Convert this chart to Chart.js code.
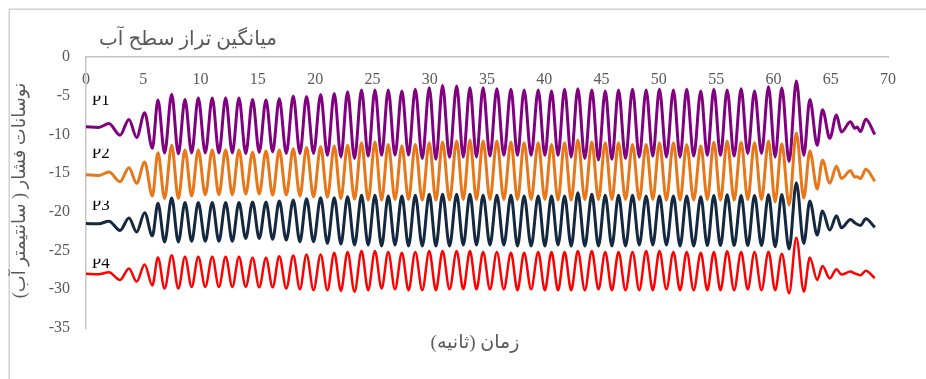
<!DOCTYPE html>
<html>
<head>
<meta charset="utf-8">
<script src="https://cdn.jsdelivr.net/npm/chart.js@4.4.1/dist/chart.umd.min.js"></script>
<style>
  html, body { margin: 0; padding: 0; background: #ffffff; }
  #wrap { width: 926px; height: 379px; position: relative; }
</style>
</head>
<body>
<div id="wrap"><canvas id="chart"></canvas></div>
<script>
// Texts
const chartTitle = 'میانگین تراز سطح آب';
const xTitle = 'زمان (ثانیه)';
const yTitle = 'نوسانات فشار ( سانتیمتر آب)';
const seriesNames = ['P1', 'P2', 'P3', 'P4'];

// Tick labels
const xTickValues = [0, 5, 10, 15, 20, 25, 30, 35, 40, 45, 50, 55, 60, 65, 70];
const yTickValues = [0, -5, -10, -15, -20, -25, -30, -35];

// Time (s) of each turning point of the records (crests and troughs alternate)
const times = [
  0, 1.1, 2.0, 2.97, 3.75, 4.42, 5.12, 5.79, 6.28, 6.86,
  7.48, 8.06, 8.64, 9.22, 9.80, 10.41, 11.02, 11.60, 12.19, 12.77,
  13.35, 13.94, 14.54, 15.12, 15.71, 16.29, 16.87, 17.48, 18.09, 18.67,
  19.25, 19.86, 20.48, 21.07, 21.67, 22.25, 22.83, 23.44, 24.05, 24.63,
  25.22, 25.80, 26.38, 26.97, 27.57, 28.15, 28.74, 29.35, 29.96, 30.54,
  31.12, 31.73, 32.35, 32.93, 33.51, 34.08, 34.66, 35.26, 35.86, 36.47,
  37.09, 37.66, 38.24, 38.85, 39.47, 40.05, 40.63, 41.20, 41.77, 42.35,
  42.93, 43.54, 44.15, 44.73, 45.32, 45.90, 46.48, 47.09, 47.70, 48.29,
  48.89, 49.47, 50.05, 50.66, 51.27, 51.85, 52.43, 53.04, 53.66, 54.23,
  54.80, 55.38, 55.96, 56.57, 57.18, 57.76, 58.35, 58.96, 59.57, 60.15,
  60.73, 61.37, 62.00, 62.65, 63.18, 63.82, 64.28, 64.92, 65.50, 65.94,
  66.72, 67.10, 67.30, 67.60, 68.06, 68.85
];

// Pressure (cm of water) at those times, one list per gauge
const p1 = [
  -9.0, -9.1, -8.6, -10.1, -8.06, -10.4, -7.2, -11.8, -5.56, -12.4,
  -4.8, -12.5, -5.5, -12.4, -5.3, -12.4, -5.3, -12.4, -5.3, -12.4,
  -5.3, -12.45, -5.5, -12.3, -5.55, -12.25, -5.4, -12.45, -5.05, -12.45,
  -5.1, -12.45, -4.85, -12.7, -4.7, -12.9, -4.5, -13.1, -4.26, -12.8,
  -4.26, -12.7, -4.26, -12.67, -4.39, -12.67, -4.18, -13.1, -3.97, -13.2,
  -3.67, -12.95, -3.75, -12.9, -3.97, -12.9, -3.97, -12.8, -4.1, -12.7,
  -4.18, -12.7, -4.26, -12.7, -4.26, -12.7, -4.39, -12.7, -4.18, -12.9,
  -4.1, -13.1, -4.26, -13.3, -4.39, -13.2, -4.26, -13.1, -4.18, -12.9,
  -4.26, -12.8, -4.18, -12.9, -4.26, -12.9, -4.18, -12.8, -4.39, -12.7,
  -4.18, -12.7, -4.26, -12.8, -4.1, -12.45, -4.39, -12.45, -3.84, -12.9,
  -4.0, -13.5, -3.1, -12.7, -5.5, -11.4, -6.8, -10.5, -7.5, -9.7,
  -8.35, -9.2, -9.05, -9.65, -8.05, -10.0
];
const p2 = [
  -15.2, -15.3, -14.86, -16.1, -14.3, -16.3, -13.57, -17.96, -12.37, -18.27,
  -11.4, -18.27, -12.0, -17.96, -12.0, -17.8, -12.0, -17.8, -12.0, -17.8,
  -12.0, -17.7, -12.3, -17.7, -12.15, -17.83, -12.0, -17.83, -11.85, -17.96,
  -11.7, -18.05, -11.6, -18.1, -11.5, -18.27, -11.4, -18.35, -11.07, -18.48,
  -10.98, -18.48, -11.3, -18.4, -11.5, -18.4, -11.3, -18.48, -11.07, -18.48,
  -10.98, -18.48, -10.85, -18.4, -10.72, -18.4, -10.85, -18.4, -10.85, -18.4,
  -10.98, -18.4, -11.07, -18.4, -11.07, -18.4, -11.3, -18.48, -11.07, -18.48,
  -10.72, -18.4, -10.98, -18.4, -11.07, -18.4, -11.07, -18.4, -11.3, -18.4,
  -11.3, -18.4, -11.07, -18.48, -11.07, -18.48, -11.3, -18.48, -11.5, -18.4,
  -11.0, -18.48, -10.85, -18.48, -11.0, -18.4, -11.07, -18.4, -10.85, -18.7,
  -11.2, -19.1, -9.8, -18.2, -12.15, -17.05, -13.35, -16.3, -14.1, -15.7,
  -14.7, -15.5, -15.45, -15.7, -14.5, -16.05
];
const p3 = [
  -21.5, -21.55, -21.2, -22.4, -20.8, -22.6, -20.1, -23.1, -18.9, -23.9,
  -18.2, -23.9, -18.8, -23.8, -18.8, -23.8, -18.8, -23.8, -18.8, -23.8,
  -18.8, -23.43, -18.74, -23.43, -18.74, -23.55, -18.6, -23.65, -18.48, -23.86,
  -18.31, -23.86, -18.18, -24.07, -18.18, -24.15, -18.05, -24.29, -17.87, -24.29,
  -17.87, -24.42, -17.96, -24.29, -17.96, -24.42, -17.87, -24.42, -17.74, -24.42,
  -17.74, -24.42, -17.74, -24.29, -17.74, -24.29, -17.87, -24.29, -17.87, -24.29,
  -17.87, -24.42, -17.96, -24.42, -17.96, -24.42, -17.96, -24.29, -17.96, -24.42,
  -17.53, -24.42, -17.74, -24.42, -17.87, -24.42, -17.87, -24.42, -17.87, -24.29,
  -17.96, -24.29, -17.96, -24.29, -17.96, -24.42, -17.96, -24.42, -18.05, -24.35,
  -17.9, -24.35, -17.8, -24.35, -17.9, -24.35, -17.9, -24.35, -17.8, -24.5,
  -17.75, -24.8, -16.24, -24.08, -18.6, -23.0, -19.9, -22.35, -20.5, -22.05,
  -20.98, -21.4, -21.6, -21.75, -20.9, -22.0
];
const p4 = [
  -28.0, -28.05, -27.8, -28.8, -27.3, -29.0, -26.8, -29.5, -25.9, -29.9,
  -25.6, -29.9, -25.8, -29.7, -25.8, -29.7, -25.8, -29.7, -25.8, -29.7,
  -25.8, -29.68, -25.93, -29.75, -25.93, -29.75, -25.72, -29.9, -25.63, -30.0,
  -25.5, -30.11, -25.5, -30.11, -25.28, -30.2, -25.2, -30.32, -25.07, -30.11,
  -25.07, -29.9, -25.2, -30.0, -25.28, -30.11, -25.2, -30.11, -25.07, -30.11,
  -25.07, -30.0, -25.07, -30.0, -25.07, -30.0, -25.2, -30.0, -25.2, -30.0,
  -25.28, -30.11, -25.28, -30.0, -25.2, -30.11, -25.2, -30.11, -25.2, -30.11,
  -25.07, -30.11, -25.07, -30.0, -25.2, -30.11, -25.2, -30.11, -25.2, -30.11,
  -25.07, -30.11, -25.07, -30.0, -25.2, -30.11, -25.2, -30.11, -25.28, -30.11,
  -25.2, -30.11, -25.1, -30.11, -25.2, -30.0, -25.2, -30.11, -25.15, -30.11,
  -25.4, -30.5, -23.35, -30.3, -25.9, -28.8, -27.0, -28.6, -27.4, -28.1,
  -27.7, -27.95, -28.05, -28.2, -27.6, -28.55
];

const seriesValues = [p1, p2, p3, p4];
seriesValues.forEach((s, i) => {
  if (s.length !== times.length) throw new Error(seriesNames[i] + ' has ' + s.length + ' values, expected ' + times.length);
});

const lineColors = ['#800080', '#E8771A', '#14283F', '#FF0000'];
const lineWidths = [3, 3, 3, 2.5];
const tickFont = { family: '"Liberation Serif", "Times New Roman", serif', size: 16 };
const textGrey = '#595959';
const axisGrey = '#C6C6C6';
const persianFont = '"Liberation Serif", "DejaVu Sans", serif';

const datasets = seriesNames.map((name, i) => ({
  label: name,
  data: times.map((t, j) => ({ x: t, y: seriesValues[i][j] })),
  borderColor: lineColors[i],
  backgroundColor: lineColors[i],
  borderWidth: lineWidths[i],
  pointRadius: 0,
  cubicInterpolationMode: 'monotone',
  fill: false,
  order: seriesNames.length - 1 - i
}));

// White page with a thin frame around the chart
const frame = {
  id: 'frame',
  beforeDraw(chart) {
    const { ctx, width, height } = chart;
    ctx.save();
    ctx.fillStyle = '#ffffff';
    ctx.fillRect(0, 0, width, height);
    ctx.strokeStyle = '#D0D0D0';
    ctx.lineWidth = 1.5;
    ctx.strokeRect(9.25, 9.25, width + 20, height + 20);
    ctx.restore();
  }
};

// Persian titles (right-to-left) and the gauge tags beside the curves
const captions = {
  id: 'captions',
  afterDraw(chart) {
    const { ctx, chartArea, scales } = chart;
    ctx.save();
    ctx.direction = 'rtl';
    ctx.fillStyle = textGrey;
    ctx.textBaseline = 'middle';

    ctx.font = '20px ' + persianFont;
    ctx.textAlign = 'left';
    ctx.fillText(chartTitle, chartArea.left + 13, 40);

    ctx.font = '19px ' + persianFont;
    ctx.textAlign = 'center';
    ctx.fillText(xTitle, (chartArea.left + chartArea.right) / 2 - 12, 343);

    ctx.font = '18px ' + persianFont;
    ctx.save();
    ctx.translate(20, (chartArea.top + chartArea.bottom) / 2 - 2);
    ctx.rotate(-Math.PI / 2);
    ctx.fillText(yTitle, 0, 0);
    ctx.restore();

    ctx.direction = 'ltr';
    ctx.font = '17px "Liberation Serif", "Times New Roman", serif';
    ctx.fillStyle = '#000000';
    ctx.textAlign = 'left';
    const tagY = [-5.52, -12.36, -19.08, -26.58];
    seriesNames.forEach((name, i) => {
      const px = scales.x.getPixelForValue(0.5);
      const py = scales.y.getPixelForValue(tagY[i]);
      ctx.save();
      ctx.beginPath();
      ctx.rect(px - 2, py - 4, 30, 20);
      ctx.clip();
      ctx.fillText(name, px, py + 1);
      ctx.restore();
    });
    ctx.restore();
  }
};

new Chart(document.getElementById('chart'), {
  type: 'line',
  data: { datasets },
  options: {
    responsive: true,
    maintainAspectRatio: false,
    animation: false,
    devicePixelRatio: 1,
    layout: { padding: { top: 52, right: 38, bottom: 51, left: 0 } },
    plugins: { legend: { display: false }, tooltip: { enabled: false }, title: { display: false } },
    scales: {
      x: {
        type: 'linear',
        position: 'top',
        min: 0,
        max: 70,
        grid: { display: false, drawTicks: false },
        border: { display: true, color: axisGrey, width: 1.5 },
        ticks: { mirror: true, padding: 13, font: tickFont, color: textGrey, maxRotation: 0, autoSkip: false },
        afterBuildTicks(scale) { scale.ticks = xTickValues.map(v => ({ value: v })); },
        afterFit(scale) { scale.height = 5; }
      },
      y: {
        type: 'linear',
        position: 'left',
        min: -35,
        max: 0,
        grid: { display: false, drawTicks: false },
        border: { display: true, color: axisGrey, width: 1.5 },
        ticks: { padding: 16, font: tickFont, color: textGrey, autoSkip: false },
        afterBuildTicks(scale) { scale.ticks = yTickValues.map(v => ({ value: v })); },
        afterFit(scale) { scale.width = 86; }
      }
    }
  },
  plugins: [frame, captions]
});
</script>
</body>
</html>
